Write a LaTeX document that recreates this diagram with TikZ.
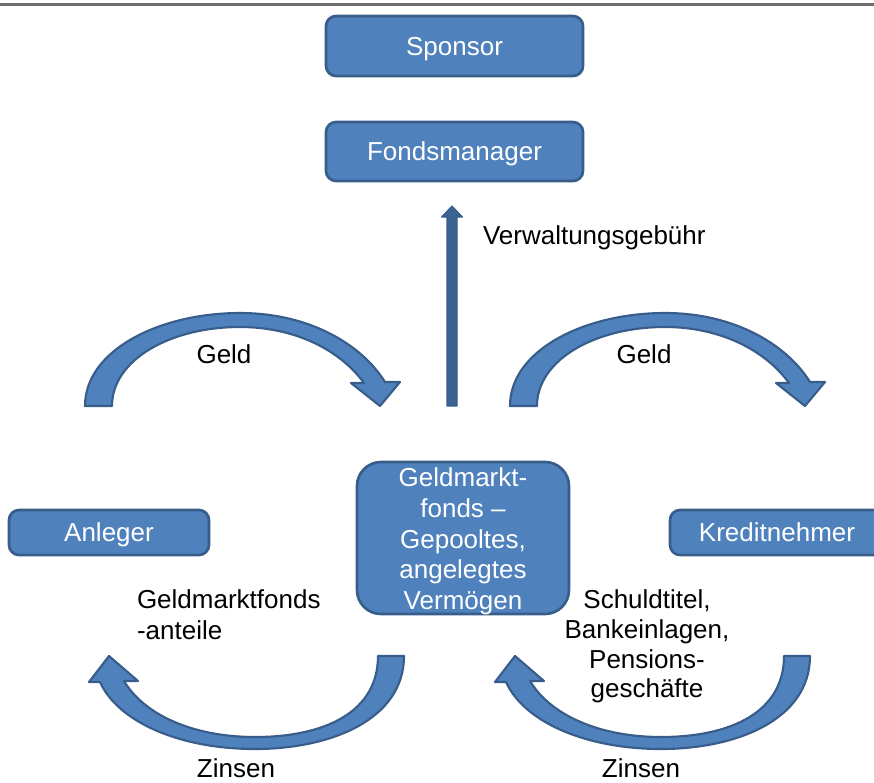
\documentclass[tikz,border=0pt]{standalone}
\usepackage{fontspec}
\setmainfont{Liberation Sans}
\usetikzlibrary{calc}
\definecolor{boxfill}{HTML}{4F81BD}
\definecolor{boxline}{HTML}{385D8A}
\definecolor{topline}{HTML}{6D6D6D}
\begin{document}
\begin{tikzpicture}[x=0.75pt,y=-0.75pt,
  every node/.style={inner sep=0pt, outer sep=0pt, font=\fontsize{19.5}{23.2}\selectfont},
  box/.style={draw=boxline, fill=boxfill, line width=2pt, rounded corners=7.5pt, text=white, align=center},
  onebox/.style={box, text height=14.6pt, text depth=0.6pt},
  band/.style={draw=boxline, fill=boxfill, line width=1.6pt, line join=round},
  lbl/.style={text=black, align=center}]
\useasboundingbox (0,0) rectangle (874,782);
\draw[topline, line width=1.6pt] (0,4.5) -- (874,4.5);

% boxes
\node[onebox, minimum width={257*0.75pt}, minimum height={60*0.75pt}] (sponsor) at (454.5,46) {Sponsor};
\node[onebox, minimum width={257*0.75pt}, minimum height={59*0.75pt}] (manager) at (454.5,151.5) {Fondsmanager};
\node[box, minimum width={212*0.75pt}, minimum height={152*0.75pt}, rounded corners=18pt] (fonds) at (463,538) {};
\node[text=white, align=center, font=\fontsize{19.5}{23}\selectfont] (fondstext) at (463,541.5)
  {Geldmarkt-\\fonds --\\Gepooltes,\\angelegtes\\Vermögen};
\node[onebox, minimum width={200*0.75pt}, minimum height={45*0.75pt}] (anleger) at (109,532.5) {Anleger};
\node[onebox, minimum width={214*0.75pt}, minimum height={45*0.75pt}] (kredit) at (777,532.5) {Kreditnehmer};

% vertical arrow (Verwaltungsgebühr)
\coordinate (vbase) at (452,406);
\coordinate (vtip) at (452,206);
\filldraw[draw=boxline, fill=boxline!85!boxfill, line width=0.8pt, line join=round]
  ($(vbase)+(-5,0)$) -- ++(0,-189) -- ++(-5.5,0) -- (vtip) -- ++(10.5,11) -- ++(-5.5,0) -- ($(vbase)+(5,0)$) -- cycle;
\node[lbl, anchor=west] (verw) at (483,238) {Verwaltungsgebühr};

% top curved arrows (Geld)
\foreach \dx in {0,425}{
\begin{scope}[shift={(\dx,0)}]
\filldraw[band] (85,406) .. controls (85,350) and (160,313) .. (240,313)
  .. controls (310,313) and (362,345) .. (385,382) -- (400,382) -- (380,406) -- (351,383) -- (364,383)
  .. controls (340,350) and (295,327) .. (240,327)
  .. controls (170,327) and (112,360) .. (112,406) -- cycle;
\end{scope}}
\node[lbl] (geld1) at (224,354) {Geld};
\node[lbl] (geld2) at (644,354) {Geld};

% bottom curved arrows (Zinsen)
\foreach \dx in {0,406}{
\begin{scope}[shift={(\dx,0)}]
\filldraw[band] (404,656) .. controls (404,720) and (330,749) .. (255,749)
  .. controls (180,749) and (118,722) .. (100,682) -- (89,682) -- (109,656) -- (138,681) -- (124,681)
  .. controls (145,716) and (195,737) .. (255,737)
  .. controls (325,737) and (378,712) .. (378,656) -- cycle;
\end{scope}}
\node[lbl, anchor=base] (zins1) at (236,777) {Zinsen};
\node[lbl, anchor=base] (zins2) at (641,777) {Zinsen};

% side labels
\node[lbl, anchor=west, align=left] (anteile) at (137,615) {Geldmarktfonds\\-anteile};
\node[lbl, font=\fontsize{19.5}{22.3}\selectfont] (titel) at (647,646.5) {Schuldtitel,\\Bankeinlagen,\\Pensions-\\geschäfte};
\end{tikzpicture}
\end{document}
